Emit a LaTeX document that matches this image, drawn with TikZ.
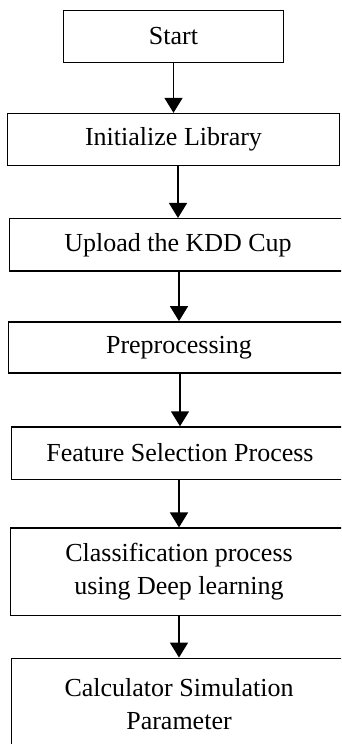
\documentclass[tikz,border=0pt]{standalone}
\usepackage{fontspec}
\setmainfont{Liberation Serif}
\usetikzlibrary{arrows.meta, positioning}

\begin{document}
\begin{tikzpicture}[x=1pt, y=1pt,
                stepbox/.style={draw, line width=1.4pt, minimum height=52.25pt,
                                inner sep=0pt, align=center,
                                font=\fontsize{26}{33}\selectfont},
                flow/.style={-{Triangle[width=18pt, length=15pt]}, line width=1.6pt}]
                \path[use as bounding box, clip] (0,0) rectangle (341,-744);
                \node[stepbox, minimum width=220.5pt] (start) at (173.5,-36.5) {Start};
                \node[stepbox, minimum width=332.5pt, below=49.5pt of start] (init)
                      {Initialize Library};
                \node[stepbox, minimum width=337.5pt, below=51.5pt of init, xshift=4.5pt]
                      (upload) {Upload the KDD Cup};
                \node[stepbox, minimum width=341.5pt, minimum height=51.25pt,
                      below=49.5pt of upload, xshift=1pt] (prep) {Preprocessing};
                \node[stepbox, minimum width=337.5pt, below=52.5pt of prep, xshift=1pt]
                      (feat) {Feature Selection Process};
                \node[stepbox, minimum width=337.5pt, minimum height=87.25pt,
                      below=47.5pt of feat, xshift=-1pt] (classify)
                      {Classification process\\using Deep learning};
                \node[stepbox, minimum width=335.5pt, minimum height=92pt,
                      below=41.5pt of classify] (calc)
                      {Calculator Simulation\\Parameter};

                \draw[flow] (start.south -| init.north) -- (init.north);
                \draw[flow] (init.south -| upload.north) -- (upload.north);
                \draw[flow] (upload.south -| prep.north) -- (prep.north);
                \draw[flow] (prep.south -| feat.north) -- (feat.north);
                \draw[flow] (feat.south -| classify.north) -- (classify.north);
                \draw[flow] (classify.south -| calc.north) -- (calc.north);
            \end{tikzpicture}
\end{document}
